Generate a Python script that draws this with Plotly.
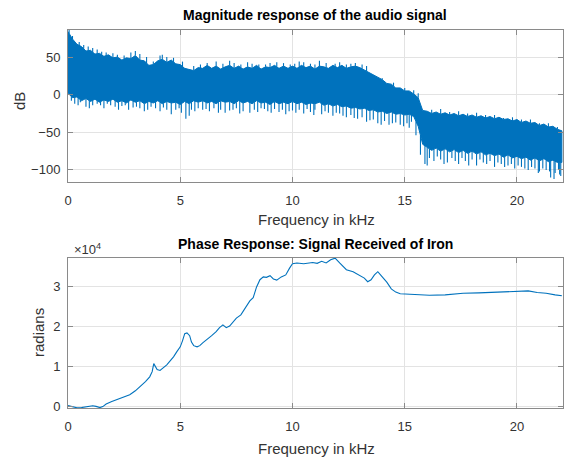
import numpy as np
import plotly.graph_objects as go

# ---------------- data ----------------
mag_freq_khz = [round(i * 0.2, 1) for i in range(111)]
# dense band: upper / lower edge of the noisy spectrum (dB)
mag_upper_db = [84, 74, 67, 64, 58, 59, 54, 55, 51, 53,
                49, 50, 46, 49, 48, 52, 46, 45, 39, 40,
                45, 47, 43, 46, 41, 40, 35, 34, 32, 36,
                35, 39, 35, 38, 34, 37, 39, 35, 38, 34,
                37, 35, 39, 34, 37, 36, 39, 35, 38, 35,
                38, 35, 39, 36, 38, 34, 38, 37, 35, 39,
                36, 39, 35, 37, 38, 36, 33, 30, 26, 23,
                20, 15, 14, 9, 9, 5, 5, 1, -4, -21,
                -22, -25, -23, -26, -24, -27, -25, -28, -26, -29,
                -27, -30, -28, -31, -29, -32, -30, -33, -32, -35,
                -33, -37, -35, -38, -37, -41, -39, -43, -42, -46,
                -48]
mag_lower_db = [2, -4, -3, -8, -5, -9, -6, -10, -7, -9,
                -6, -10, -8, -11, -7, -10, -8, -12, -9, -11,
                -8, -12, -9, -11, -10, -13, -9, -12, -8, -10,
                -8, -11, -9, -12, -8, -10, -9, -12, -8, -11,
                -9, -12, -8, -11, -10, -13, -9, -12, -10, -12,
                -9, -12, -10, -13, -11, -12, -10, -14, -12, -15,
                -13, -16, -15, -18, -17, -19, -18, -21, -20, -23,
                -22, -25, -23, -26, -25, -27, -26, -29, -42, -66,
                -70, -74, -71, -75, -72, -76, -73, -77, -74, -78,
                -75, -79, -76, -80, -78, -81, -79, -83, -80, -84,
                -82, -85, -83, -87, -84, -88, -85, -89, -87, -90,
                -90]

# individual noise spikes poking out of the band (kHz, dB)
spike_up_khz = [0.05, 0.2, 0.5, 0.7, 0.9, 1.1, 1.3, 1.5, 1.7, 2.0, 2.2, 2.5, 2.8,
                3.0, 3.2, 3.5, 3.8, 4.1, 4.2, 4.4, 4.7, 5.1, 5.6, 5.9, 6.2, 6.6,
                6.9, 7.2, 7.4, 7.7, 8.0, 8.2, 8.5, 8.8, 9.0, 9.3, 9.6, 9.9, 10.1,
                10.3, 10.5, 10.8, 11.0, 11.2, 11.5, 11.9, 12.1, 12.4, 12.6, 12.8,
                13.1, 13.3, 14.0, 14.5, 15.0, 15.4, 15.6, 16.2, 16.6, 17.0, 17.4,
                17.8, 18.2, 18.6, 19.0, 19.4, 19.8, 20.2, 20.6, 21.0, 21.4, 21.8]
spike_up_db = [88, 78, 70, 66, 64, 62, 60, 57, 56, 55, 53, 52, 56,
               58, 54, 50, 44, 52, 53, 50, 49, 44, 38, 40, 42, 44,
               41, 45, 42, 40, 43, 41, 40, 40, 42, 43, 42, 40, 41,
               44, 43, 41, 40, 45, 42, 41, 43, 40, 41, 42,
               40, 38, 22, 16, 9, 6, 2, -20, -19, -23, -22,
               -25, -24, -27, -27, -31, -30, -33, -33, -38, -38, -43]
spike_down_khz = [0.15, 0.3, 0.45, 0.55, 0.8, 0.95, 1.1, 1.3, 1.45, 1.6, 1.75, 1.9,
                  2.1, 2.25, 2.4, 2.55, 2.7, 2.9, 3.05, 3.2, 3.4, 3.55, 3.7, 3.9,
                  4.1, 4.25, 4.4, 4.6, 4.8, 4.95, 5.05, 5.25, 5.4, 5.5, 5.65, 5.8,
                  6.0, 6.15, 6.3, 6.5, 6.7, 6.8, 7.0, 7.2, 7.35, 7.5, 7.65, 7.8,
                  8.1, 8.3, 8.45, 8.6, 8.75, 8.9, 9.05, 9.2, 9.4, 9.55, 9.7, 9.85,
                  10.0, 10.15, 10.3, 10.5, 10.65, 10.8, 10.95, 11.0, 11.3, 11.45,
                  11.6, 11.8, 11.95, 12.1, 12.25, 12.4, 12.6, 12.75, 12.9, 13.1,
                  13.3, 13.45, 13.6, 13.8, 13.95, 14.1, 14.3, 14.45, 14.6, 14.8,
                  14.95, 15.1, 15.2, 15.3, 15.5, 15.7, 15.9, 16.0, 16.1, 16.3,
                  16.45, 16.6, 16.75, 16.9, 17.1, 17.25, 17.4, 17.55, 17.7, 17.85,
                  18.0, 18.2, 18.35, 18.5, 18.65, 18.8, 19.0, 19.15, 19.3, 19.45,
                  19.6, 19.75, 19.9, 20.05, 20.2, 20.35, 20.5, 20.65, 20.8, 20.95,
                  21.0, 21.15, 21.3, 21.45, 21.5, 21.65, 21.7, 21.85, 21.9, 21.95]
spike_down_db = [-8, -12, -14, -10, -16, -18, -14, -12, -14, -18, -12, -14,
                 -16, -20, -15, -14, -20, -17, -16, -18, -22, -20, -16, -18,
                 -22, -17, -20, -26, -20, -18, -24, -32, -28, -20, -22, -18,
                 -20, -19, -22, -18, -24, -20, -24, -21, -20, -18, -25, -22,
                 -24, -20, -23, -18, -19, -22, -24, -19, -23, -20, -26, -22,
                 -21, -24, -20, -25, -19, -23, -27, -20, -26, -22,
                 -24, -28, -24, -25, -28, -30, -27, -31, -32, -30,
                 -36, -34, -33, -38, -40, -35, -40, -38, -37, -40,
                 -42, -38, -44, -36, -54, -80, -92, -94, -84, -88,
                 -82, -86, -92, -90, -84, -88, -92, -84, -88, -94,
                 -86, -94, -86, -90, -92, -88, -96, -90, -92, -96,
                 -94, -92, -98, -94, -96, -98, -100, -96, -98, -104,
                 -102, -98, -100, -102, -110, -112, -104, -100, -106, -108]

phase_freq_khz = [0, 0.2, 0.4, 0.6, 0.83, 1.0, 1.1, 1.25, 1.42, 1.55, 1.7, 1.95,
                  2.2, 2.5, 2.75, 3.0, 3.2, 3.45, 3.64, 3.75, 3.82, 3.9, 3.97, 4.1,
                  4.25, 4.4, 4.55, 4.7, 4.85, 5.0, 5.1, 5.2, 5.3, 5.42, 5.5, 5.6,
                  5.75, 5.87, 6.0, 6.2, 6.4, 6.6, 6.75, 6.9, 7.05, 7.2, 7.35, 7.5,
                  7.7, 7.95, 8.1, 8.25, 8.4, 8.55, 8.7, 8.84, 9.0, 9.15, 9.3, 9.5,
                  9.7, 9.87, 10.0, 10.2, 10.5, 10.9, 11.1, 11.3, 11.5, 11.7, 11.9,
                  12.1, 12.4, 12.7, 13.0, 13.2, 13.35, 13.5, 13.65, 13.8, 13.95,
                  14.2, 14.4, 14.6, 14.8, 15.05, 15.5, 16.1, 16.8, 17.6, 18.3,
                  19.1, 19.6, 20.1, 20.5, 20.9, 21.3, 21.7, 22.0]
phase_rad = [300, 100, -250, -200, 0, 200, 250, 100, -200, 50, 700, 1300,
             1800, 2400, 3000, 4000, 5000, 6300, 7500, 8800, 10800, 10000, 9300, 9100,
             9800, 10500, 11500, 12500, 13800, 15000, 16500, 18300, 18500, 17800, 16200, 15300,
             15000, 15300, 16000, 16800, 17800, 18800, 19800, 20500, 19800, 20200, 21200, 22200,
             23000, 25000, 26500, 27300, 30000, 31800, 32500, 32400, 32800, 32000, 31700, 32500,
             33000, 34700, 35800, 36000, 35800, 36100, 35900, 36400, 36000, 36800, 37200,
             36000, 34300, 33800, 32800, 32200, 31300, 31800, 33000, 33800, 32800,
             31200, 29500, 28700, 28300, 28200, 28100, 27900, 28000, 28400, 28500,
             28700, 28800, 28800, 29000, 28600, 28400, 28000, 27800]

x_ticks = [0, 5, 10, 15, 20]
mag_y_ticks = [-100, -50, 0, 50]
phase_y_ticks = [0, 10000, 20000, 30000]
phase_y_ticklabels = ["0", "1", "2", "3"]

# ---------------- styles ----------------
BLUE = "#0072BD"
AXC = "#8a8a8a"
GRID = "#e3e3e3"
TXT = "#333333"
FONT = "Liberation Sans, Arial, sans-serif"

fig = go.Figure()

fig.add_trace(go.Scatter(
    x=mag_freq_khz + mag_freq_khz[::-1],
    y=mag_upper_db + mag_lower_db[::-1],
    fill="toself", fillcolor=BLUE, mode="lines",
    line=dict(color=BLUE, width=1),
    xaxis="x", yaxis="y", showlegend=False, hoverinfo="skip"))


def spike_segments(freqs, tips, edge):
    xs, ys = [], []
    for f, t in zip(freqs, tips):
        base = float(np.interp(f, mag_freq_khz, edge))
        xs += [f, f, None]
        ys += [base, t, None]
    return xs, ys


for fr, tp, edge in [(spike_up_khz, spike_up_db, mag_upper_db),
                     (spike_down_khz, spike_down_db, mag_lower_db)]:
    sx, sy = spike_segments(fr, tp, edge)
    fig.add_trace(go.Scatter(x=sx, y=sy, mode="lines",
                             line=dict(color=BLUE, width=1.1),
                             xaxis="x", yaxis="y", showlegend=False, hoverinfo="skip"))

fig.add_trace(go.Scatter(
    x=phase_freq_khz, y=phase_rad, mode="lines",
    line=dict(color=BLUE, width=1.1),
    xaxis="x2", yaxis="y2", showlegend=False))

common_axis = dict(
    showline=True, linecolor=AXC, linewidth=1, mirror="ticks",
    ticks="inside", ticklen=5, tickcolor=AXC,
    showgrid=True, gridcolor=GRID, gridwidth=1, zeroline=False,
    tickfont=dict(family=FONT, size=13, color=TXT),
)

fig.update_layout(
    width=565, height=461,
    margin=dict(l=68, r=2, t=30, b=53),
    paper_bgcolor="white", plot_bgcolor="white",
    font=dict(family=FONT, color=TXT),
    xaxis=dict(common_axis, domain=[0, 1], anchor="y", range=[0, 22.05],
               tickvals=x_ticks, ticklabelstandoff=6),
    yaxis=dict(common_axis, domain=[0.598, 1], anchor="x", range=[-116, 86],
               tickvals=mag_y_ticks, ticklabelstandoff=4),
    xaxis2=dict(common_axis, domain=[0, 1], anchor="y2", range=[0, 22.05],
                tickvals=x_ticks, ticklabelstandoff=6),
    yaxis2=dict(common_axis, domain=[0, 0.397], anchor="x2", range=[-300, 37250],
                tickvals=phase_y_ticks, ticktext=phase_y_ticklabels, ticklabelstandoff=4),
)

annots = [
    dict(text="<b>Magnitude response of the audio signal</b>", x=315, y=15, size=14, color="#000000"),
    dict(text="<b>Phase Response: Signal Received of Iron</b>", x=315, y=244, size=14, color="#000000"),
    dict(text="Frequency in kHz", x=316, y=219, size=15, color=TXT),
    dict(text="Frequency in kHz", x=316, y=449, size=15, color=TXT),
    dict(text="×10<sup>4</sup>", x=87, y=249, size=13, color=TXT),
]
for a in annots:
    fig.add_annotation(text=a["text"], xref="paper", yref="paper",
                       x=(a["x"] - 68) / 495, y=1 - (a["y"] - 30) / 378,
                       xanchor="center", yanchor="middle", showarrow=False,
                       font=dict(family=FONT, size=a["size"], color=a["color"]))

for txt, px, py in [("dB", 20, 101), ("radians", 38, 333)]:
    fig.add_annotation(text=txt, xref="paper", yref="paper",
                       x=(px - 68) / 495, y=1 - (py - 30) / 378,
                       xanchor="center", yanchor="middle", showarrow=False, textangle=-90,
                       font=dict(family=FONT, size=15, color=TXT))

fig.write_html("out.html")
